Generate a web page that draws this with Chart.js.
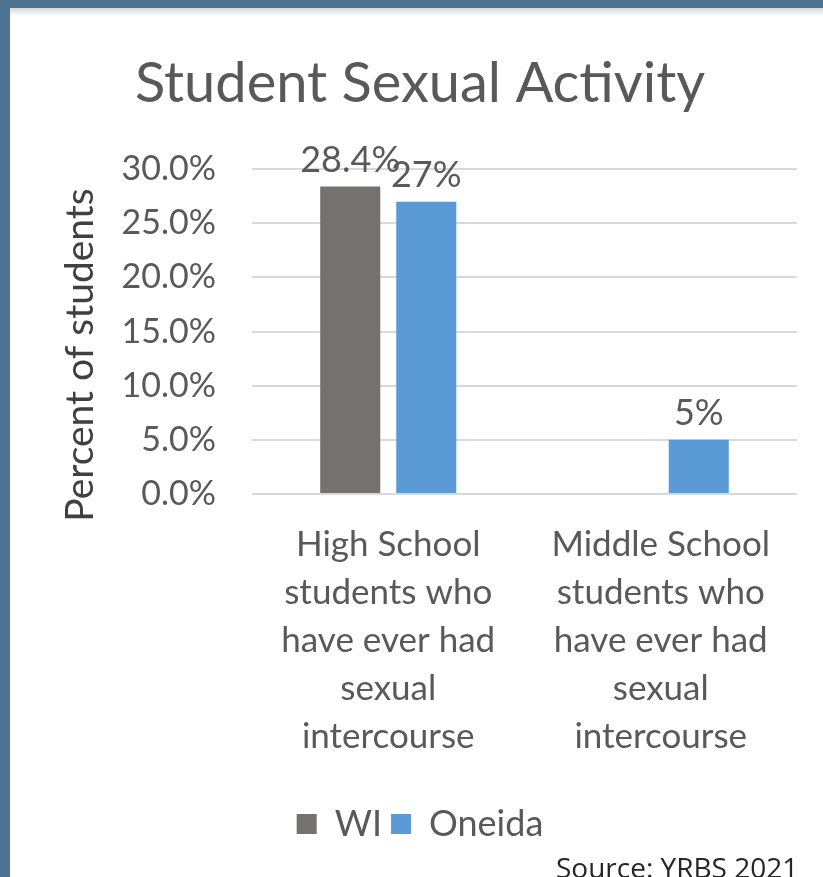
<!DOCTYPE html>
<html>
<head>
<meta charset="utf-8">
<script src="https://cdn.jsdelivr.net/npm/chart.js@4.4.0/dist/chart.umd.min.js"></script>
<style>
    html, body { margin: 0; padding: 0; background: #fff; }
    body { width: 823px; height: 877px; position: relative; overflow: hidden; }
    #wrap { position: absolute; left: 0; top: 0; width: 823px; height: 877px; }
    .edge-left { position: absolute; left: 0; top: 0; width: 10px; height: 877px; background: #4f7393; z-index: 2; }
    .edge-top { position: absolute; left: 0; top: 0; width: 823px; height: 8px; background: #4f7393; z-index: 2; }
    .edge-shade { position: absolute; left: 10px; top: 8px; width: 813px; height: 8px; background: linear-gradient(#d6d6d6, #fff); z-index: 1; }
    .source { position: absolute; left: 556px; top: 848px; font: 28px "Open Sans", sans-serif; color: #262626; z-index: 3; white-space: nowrap; }
</style>
</head>
<body>
<div class="edge-left"></div>
<div class="edge-top"></div>
<div class="edge-shade"></div>
<div id="wrap"><canvas id="chart"></canvas></div>
<div class="source">Source: YRBS 2021</div>
<script>
const categories = [
    ['High School', 'students who', 'have ever had', 'sexual', 'intercourse'],
    ['Middle School', 'students who', 'have ever had', 'sexual', 'intercourse']
];
const wiValues = [28.4, null];
const oneidaValues = [27, 5];
const yTicks = [0, 5, 10, 15, 20, 25, 30];

const textColor = '#595959';
const fontFamily = 'Lato, "Open Sans", sans-serif';

// value labels above bars + rotated axis title
const extras = {
    id: 'extras',
    afterDatasetsDraw(chart) {
        const { ctx } = chart;
        ctx.save();
        ctx.fillStyle = textColor;
        ctx.font = `36px ${fontFamily}`;
        ctx.textAlign = 'center';
        ctx.textBaseline = 'middle';
        chart.data.datasets.forEach((ds, i) => {
            chart.getDatasetMeta(i).data.forEach((bar, j) => {
                const v = ds.data[j];
                if (v === null || v === undefined) return;
                ctx.fillText(`${v}%`, bar.x, bar.y - 26);
            });
        });
        ctx.translate(80, 355);
        ctx.rotate(-Math.PI / 2);
        ctx.font = `39px ${fontFamily}`;
        ctx.fillStyle = '#404040';
        ctx.fillText('Percent of students', 0, 0);
        ctx.restore();
    }
};

new Chart(document.getElementById('chart'), {
    type: 'bar',
    data: {
        labels: categories,
        datasets: [
            { label: 'WI', data: wiValues, backgroundColor: '#767171', barPercentage: 0.79, categoryPercentage: 0.558 },
            { label: 'Oneida', data: oneidaValues, backgroundColor: '#5b9bd5', barPercentage: 0.79, categoryPercentage: 0.558 }
        ]
    },
    options: {
        responsive: true,
        maintainAspectRatio: false,
        animation: false,
        layout: { padding: { left: 43, right: 26, top: 0, bottom: 25 } },
        plugins: {
            title: {
                display: true,
                text: 'Student Sexual Activity',
                color: textColor,
                font: { family: fontFamily, size: 56, weight: 'normal', lineHeight: 1.2 },
                padding: { top: 50, bottom: 52 }
            },
            legend: {
                position: 'bottom',
                labels: {
                    color: textColor,
                    font: { family: fontFamily, size: 36 },
                    boxWidth: 20,
                    boxHeight: 20,
                    padding: 9
                }
            },
            tooltip: { enabled: false }
        },
        scales: {
            x: {
                grid: { display: false, drawTicks: false },
                border: { display: false },
                ticks: { color: textColor, font: { family: fontFamily, size: 35, lineHeight: 1.37 }, padding: 27, maxRotation: 0 },
                afterFit: (scale) => { scale.height = 303; }
            },
            y: {
                min: 0,
                max: 30,
                afterBuildTicks: (scale) => { scale.ticks = yTicks.map((v) => ({ value: v })); },
                grid: { color: '#d9d9d9', lineWidth: 2, drawTicks: false },
                border: { display: false },
                ticks: { color: textColor, font: { family: fontFamily, size: 34 }, padding: 36, callback: (v) => `${Number(v).toFixed(1)}%` },
                afterFit: (scale) => { scale.width = 209; }
            }
        }
    },
    plugins: [extras]
});
</script>
</body>
</html>
